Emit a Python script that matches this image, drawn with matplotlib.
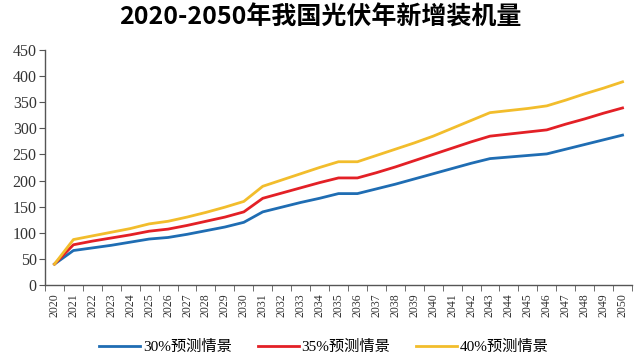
import numpy as np
import matplotlib
matplotlib.use("Agg")
import matplotlib.pyplot as plt

# years on the category axis
years = [str(y) for y in range(2020, 2051)]

# newly installed PV capacity under three forecast scenarios
s30 = [40, 66, 71, 76, 82, 88, 91, 97, 104, 111, 120,
       140, 149, 158, 166, 175, 175, 184, 193, 203, 213,
       223, 233, 242, 245, 248, 251, 260, 269, 278, 287]
s35 = [40, 77, 84, 90, 96, 103, 107, 114, 122, 130, 140,
       166, 176, 186, 196, 205, 205, 215, 226, 238, 250,
       262, 274, 285, 289, 293, 297, 308, 318, 329, 339]
s40 = [40, 87, 94, 101, 108, 117, 122, 130, 139, 149, 160,
       189, 201, 213, 225, 236, 236, 248, 260, 272, 285,
       300, 315, 330, 334, 338, 343, 354, 366, 377, 389]

labels = ["30%预测情景", "35%预测情景", "40%预测情景"]
colors = ["#1f6db3", "#e32026", "#f2bd2c"]
yticks = list(range(0, 451, 50))

serif = ["Liberation Serif", "Noto Sans CJK SC"]

fig = plt.figure(figsize=(6.4, 3.57), dpi=100)
ax = fig.add_axes([0.0703, 0.2017, 0.9172, 0.6583])

x = np.arange(len(years))
for vals, lab, col in zip([s30, s35, s40], labels, colors):
    ax.plot(x, vals, color=col, lw=2.0, label=lab, solid_joinstyle="round")

ax.set_xlim(-0.5, len(years) - 0.5)
ax.set_ylim(0, 450)
ax.set_yticks(yticks)
ax.set_yticklabels([str(v) for v in yticks], family=serif, fontsize=11.5, color="#333333")

# category labels at centres, tick marks at the boundaries
ax.set_xticks(x)
ax.set_xticklabels(years, rotation=90, family=serif, fontsize=8.5, color="#333333")
ax.set_xticks(np.arange(-0.5, len(years)), minor=True)
ax.tick_params(axis="x", which="major", length=0, pad=6)
ax.tick_params(axis="x", which="minor", length=4, direction="out", color="#555555")
ax.tick_params(axis="y", length=4, direction="out", color="#555555", pad=2)

for side in ["top", "right"]:
    ax.spines[side].set_visible(False)
for side in ["left", "bottom"]:
    ax.spines[side].set_color("#555555")
    ax.spines[side].set_linewidth(1.0)

fig.text(0.5, 0.95, "2020-2050年我国光伏年新增装机量", ha="center", va="center",
         fontsize=18, fontweight="bold", family=["Noto Sans CJK SC", "DejaVu Sans"])

handles, labs = ax.get_legend_handles_labels()
fig.legend(handles, labs, loc="center", bbox_to_anchor=(0.506, 0.028), ncol=3,
           frameon=False, prop={"family": serif, "size": 11},
           handlelength=2.7, handletextpad=0.15, columnspacing=1.7)

fig.savefig("out.png", dpi=100)
